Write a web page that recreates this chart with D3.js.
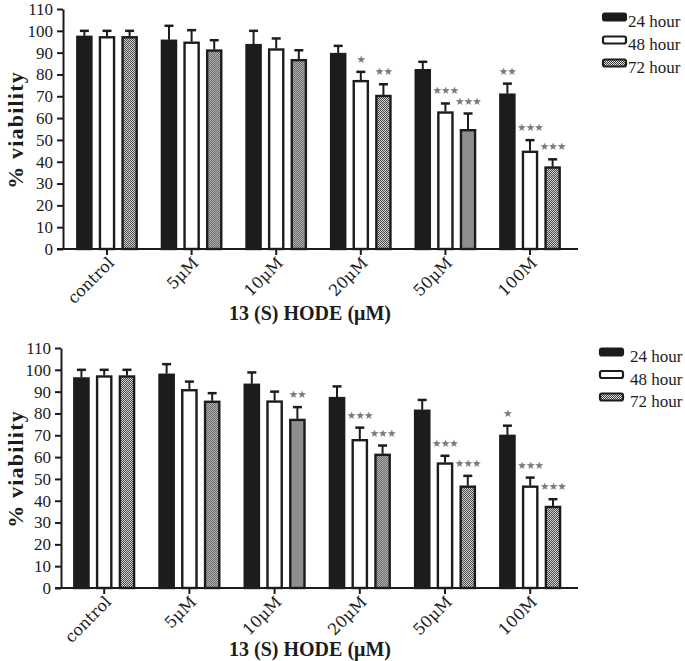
<!DOCTYPE html>
<html>
<head>
<meta charset="utf-8">
<script src="https://cdn.jsdelivr.net/npm/d3@7"></script>
<style>
  html, body { margin: 0; padding: 0; background: #fff; }
  svg { display: block; }
  svg text { font-family: "Liberation Serif", "DejaVu Serif", serif; }
</style>
</head>
<body>
<svg id="chart" width="685" height="661"></svg>
<script>
// ---------- DATA ----------
const categories = ["control", "5μM", "10μM", "20μM", "50μM", "100M"];
const seriesNames = ["24 hour", "48 hour", "72 hour"];
const yTicks = [0, 10, 20, 30, 40, 50, 60, 70, 80, 90, 100, 110];
const yTitle = "% viability";
const xTitle = "13 (S) HODE (μM)";

// Panel 1 (top)
const p1_mean24 = [97.7, 95.9, 93.9, 89.8, 82.4, 71.2];
const p1_err24  = [2.3, 6.4, 6.1, 3.3, 3.4, 4.6];
const p1_mean48 = [97.5, 95.0, 91.9, 77.4, 63.0, 45.0];
const p1_err48  = [2.5, 5.3, 4.6, 3.8, 3.7, 4.9];
const p1_mean72 = [97.5, 91.4, 87.0, 70.6, 54.9, 37.8];
const p1_err72  = [2.5, 4.3, 4.1, 4.9, 7.2, 3.3];
const p1_sig24  = ["", "", "", "", "", "**"];
const p1_sig48  = ["", "", "", "*", "***", "***"];
const p1_sig72  = ["", "", "", "**", "***", "***"];

// Panel 2 (bottom)
const p2_mean24 = [96.5, 98.2, 93.6, 87.5, 81.7, 70.2];
const p2_err24  = [3.5, 4.4, 5.2, 4.9, 4.5, 4.2];
const p2_mean48 = [97.4, 91.1, 85.9, 68.2, 57.5, 46.9];
const p2_err48  = [2.6, 3.5, 4.1, 5.3, 3.1, 3.7];
const p2_mean72 = [97.4, 85.8, 77.5, 61.5, 46.9, 37.6];
const p2_err72  = [2.6, 3.5, 5.4, 3.8, 4.5, 3.1];
const p2_sig24  = ["", "", "", "", "", "*"];
const p2_sig48  = ["", "", "", "***", "***", "***"];
const p2_sig72  = ["", "", "**", "***", "***", "***"];

// ---------- DRAW ----------
const svg = d3.select("#chart");
const INK = "#1c1c1c";
const SERIF = "\"Liberation Serif\", \"DejaVu Serif\", serif";
const WIDE_SERIF = "\"DejaVu Serif\", \"Liberation Serif\", serif";

// checkered pattern for 72 hour
const defs = svg.append("defs");
const pat = defs.append("pattern").attr("id", "checks")
  .attr("patternUnits", "userSpaceOnUse").attr("width", 2).attr("height", 2);
pat.append("rect").attr("width", 2).attr("height", 2).attr("fill", "#e2e2e2");
pat.append("rect").attr("width", 1).attr("height", 1).attr("fill", "#3a3a3a");
pat.append("rect").attr("x", 1).attr("y", 1).attr("width", 1).attr("height", 1).attr("fill", "#3a3a3a");

const fills = [INK, "#ffffff", "url(#checks)"];

function buildRows(means, errs, sigs) {
  return categories.map((c, i) => ({
    cat: c,
    vals: seriesNames.map((s, k) => ({ s, k, v: means[k][i], e: errs[k][i], sig: sigs[k][i] }))
  }));
}

function drawPanel(cfg) {
  const g = svg.append("g");
  const y = d3.scaleLinear().domain([0, 110]).range([cfg.yZero, cfg.yTop]);
  const x0 = d3.scaleBand().domain(categories).range(cfg.xRange)
    .paddingInner(0.27).paddingOuter(0.135);
  const x1 = d3.scaleBand().domain(seriesNames).range([0, x0.bandwidth()])
    .paddingInner(0.27).paddingOuter(0);

  const rows = buildRows(cfg.means, cfg.errs, cfg.sigs);

  const grp = g.selectAll("g.grp").data(rows).enter().append("g")
    .attr("transform", d => `translate(${x0(d.cat)},0)`);

  const bar = grp.selectAll("g.bar").data(d => d.vals).enter().append("g");

  bar.append("line")
    .attr("x1", d => x1(d.s) + x1.bandwidth() / 2)
    .attr("x2", d => x1(d.s) + x1.bandwidth() / 2)
    .attr("y1", d => y(d.v))
    .attr("y2", d => y(d.v + d.e))
    .attr("stroke", INK).attr("stroke-width", 2);
  bar.append("line")
    .attr("x1", d => x1(d.s) + x1.bandwidth() / 2 - 4.5)
    .attr("x2", d => x1(d.s) + x1.bandwidth() / 2 + 4.5)
    .attr("y1", d => y(d.v + d.e))
    .attr("y2", d => y(d.v + d.e))
    .attr("stroke", INK).attr("stroke-width", 2.5);

  bar.append("rect")
    .attr("x", d => x1(d.s) + 1.2)
    .attr("width", x1.bandwidth() - 2.4)
    .attr("y", d => y(d.v) + 1)
    .attr("height", d => y(0) - y(d.v) - 1)
    .attr("fill", d => fills[d.k])
    .attr("stroke", INK).attr("stroke-width", 2.4);

  bar.filter(d => d.sig).append("text")
    .attr("x", d => x1(d.s) + x1.bandwidth() / 2)
    .attr("y", d => y(d.v + d.e) - 13)
    .attr("text-anchor", "middle")
    .attr("dominant-baseline", "central")
    .style("font-family", "\"DejaVu Sans\", sans-serif")
    .style("font-size", "10.5px")
    .attr("letter-spacing", -0.8)
    .attr("fill", "#7a7a7a")
    .text(d => d.sig.replace(/\*/g, "★"));

  // y axis
  const ya = g.append("g").attr("transform", `translate(${cfg.axisX},0)`)
    .call(d3.axisLeft(y).tickValues(yTicks).tickSize(6).tickSizeOuter(0).tickPadding(4));
  ya.attr("font-family", null).attr("font-size", null);
  ya.select(".domain").attr("stroke", INK).attr("stroke-width", 2);
  ya.selectAll(".tick line").attr("stroke", INK).attr("stroke-width", 2);
  ya.selectAll(".tick text").style("font-family", SERIF).style("font-size", "17px").attr("fill", INK);

  // x axis
  const xa = g.append("g").attr("transform", `translate(0,${cfg.yZero})`)
    .call(d3.axisBottom(x0).tickSize(6).tickSizeOuter(0).tickPadding(4));
  xa.attr("font-family", null).attr("font-size", null);
  xa.select(".domain").attr("d", `M${cfg.axisX - 6},0H${cfg.axisEnd}`)
    .attr("stroke", INK).attr("stroke-width", 2);
  xa.selectAll(".tick line").attr("stroke", INK).attr("stroke-width", 2);
  xa.selectAll(".tick text")
    .style("font-family", WIDE_SERIF).style("font-size", "16px").attr("fill", INK)
    .attr("text-anchor", "end")
    .attr("dy", null).attr("y", 0)
    .attr("transform", "translate(8,15) rotate(-45)");

  // axis titles
  g.append("text")
    .attr("transform", `translate(${cfg.yTitleX},${(cfg.yZero + cfg.yTop) / 2 + 1}) rotate(-90)`)
    .attr("text-anchor", "middle")
    .attr("letter-spacing", 1.2)
    .style("font-family", SERIF).style("font-weight", "bold").style("font-size", "22px")
    .attr("fill", INK)
    .text(yTitle);
  g.append("text")
    .attr("x", cfg.xTitleX).attr("y", cfg.xTitleY)
    .attr("text-anchor", "middle")
    .style("font-family", SERIF).style("font-weight", "bold").style("font-size", "20px")
    .attr("fill", INK)
    .text(xTitle);

  // legend
  const lg = g.append("g");
  const items = lg.selectAll("g").data(seriesNames).enter().append("g")
    .attr("transform", (d, i) => `translate(${cfg.legendX},${cfg.legendY + i * cfg.legendStep})`);
  items.append("rect")
    .attr("x", 0).attr("y", -3.5).attr("width", 23).attr("height", 7)
    .attr("rx", 2)
    .attr("fill", (d, i) => fills[i])
    .attr("stroke", INK).attr("stroke-width", 2.2);
  items.append("text")
    .attr("x", cfg.legendTextDX).attr("y", 10)
    .style("font-family", SERIF).style("font-size", "17px").attr("fill", INK)
    .text(d => d);
}

drawPanel({
  yTop: 9, yZero: 249, axisX: 63, axisEnd: 578,
  xRange: [64.7, 572.3],
  means: [p1_mean24, p1_mean48, p1_mean72],
  errs: [p1_err24, p1_err48, p1_err72],
  sigs: [p1_sig24, p1_sig48, p1_sig72],
  yTitleX: 23, xTitleX: 310, xTitleY: 320,
  legendX: 603, legendY: 17, legendStep: 23, legendTextDX: 25
});

drawPanel({
  yTop: 348, yZero: 588, axisX: 61, axisEnd: 578,
  xRange: [61.6, 572.8],
  means: [p2_mean24, p2_mean48, p2_mean72],
  errs: [p2_err24, p2_err48, p2_err72],
  sigs: [p2_sig24, p2_sig48, p2_sig72],
  yTitleX: 23, xTitleX: 310, xTitleY: 656,
  legendX: 600, legendY: 352, legendStep: 22.5, legendTextDX: 30
});
</script>
</body>
</html>
